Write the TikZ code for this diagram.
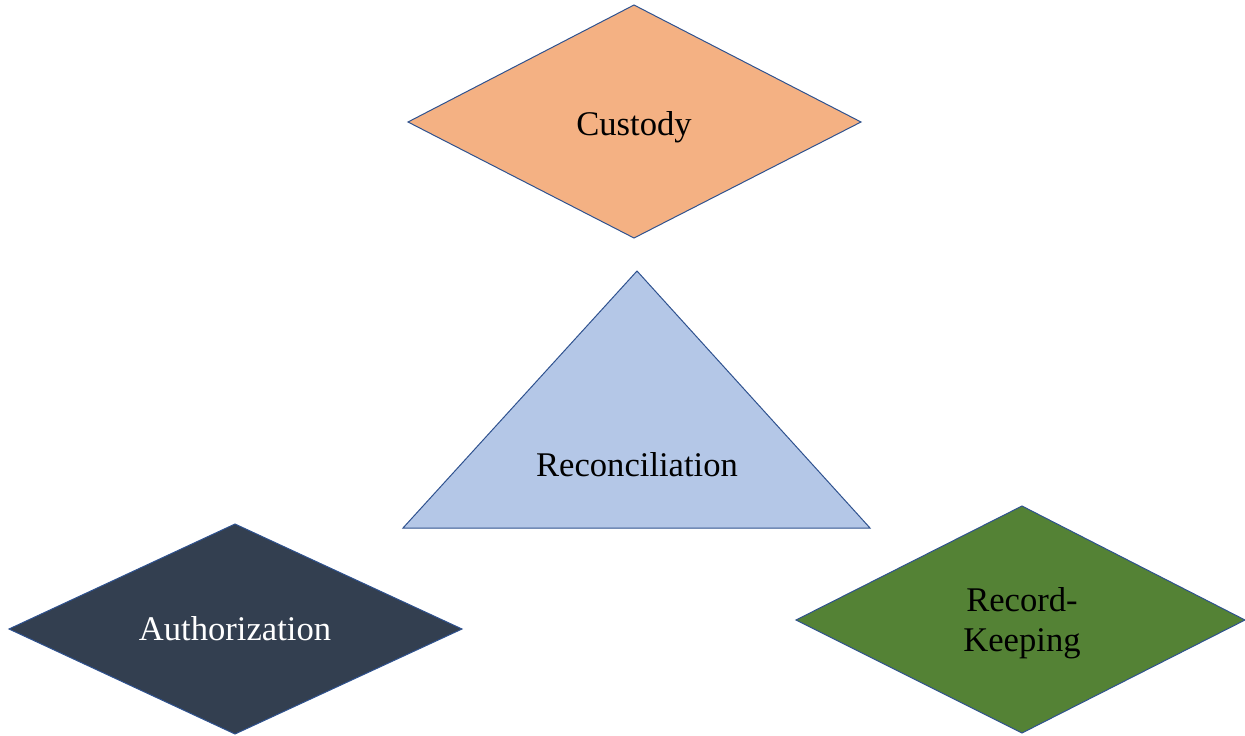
\documentclass[tikz,border=0pt]{standalone}
\usepackage{fontspec}
\setmainfont{Liberation Serif}
\definecolor{custodyfill}{HTML}{F4B183}
\definecolor{reconfill}{HTML}{B4C7E7}
\definecolor{authfill}{HTML}{333F50}
\definecolor{recordfill}{HTML}{548235}
\definecolor{edgeblue}{HTML}{2F528F}
\tikzset{
	shapeline/.style={draw=edgeblue, line width=1pt, line join=miter},
	label/.style={font=\fontsize{34.6}{40}\selectfont, inner sep=0pt},
}
\begin{document}
\begin{tikzpicture}[x=1pt, y=-1pt]
	\useasboundingbox (0,0) rectangle (1245,736);
	% diamonds
	\draw [shapeline, fill=custodyfill] (408,122) -- (634,5) -- (861,122) -- (634,238) -- cycle;
	\draw [shapeline, fill=authfill] (9,629) -- (235,524) -- (462,629) -- (235,734) -- cycle;
	\draw [shapeline, fill=recordfill] (796,620) -- (1022,506) -- (1245,620) -- (1022,733) -- cycle;
	% triangle
	\draw [shapeline, fill=reconfill] (403,528) -- (637,271) -- (870,528) -- cycle;
	\node [label, anchor=base] (custody) at (634,135) {Custody};
	\node [label, anchor=base] (recon) at (637,476.7) {Reconciliation};
	\node [label, anchor=base, text=white] (auth) at (235,640.7) {Authorization};
	\node [label, align=center] (record) at (1022,623.6) {Record-\\Keeping};
\end{tikzpicture}
\end{document}
